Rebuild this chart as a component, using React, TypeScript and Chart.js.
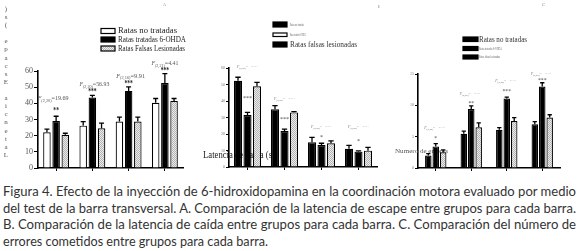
import React, { useEffect, useLayoutEffect, useRef } from "react";
import { Chart, registerables } from "chart.js";

Chart.register(...registerables);

// ---------- data ----------
const groupLabels = ["Barra 1", "Barra 2", "Barra 3", "Barra 4"];
const legendA = ["Ratas no tratadas", "Ratas tratadas 6-OHDA", "Ratas Falsas Lesionadas"];
const legendBC = ["Ratas no tratadas", "Ratas tratadas 6-OHDA", "Ratas falsas lesionadas"];

// A. Latencia de escape (s)
const escapeNoTratadas = [22.1, 26.2, 28.7, 40.3];
const escapeNoTratadasSem = [2.0, 2.5, 2.8, 2.7];
const escapeTratadas = [29.1, 43.6, 47.7, 52.6];
const escapeTratadasSem = [2.9, 1.3, 2.5, 5.8];
const escapeFalsas = [20.5, 24.6, 28.7, 41.5];
const escapeFalsasSem = [1.0, 3.1, 2.8, 1.5];
const escapeDf = ["(2,20)", "(2,20)", "(2,16)", "(2,21)"];
const escapeF = ["19.69", "56.93", "9.91", "4.41"];
const escapeStars = ["**", "***", "***", "***"];
const escapeTitle = "Latencia Escape (s)";

// B. Latencia de caída (s)
const caidaNoTratadas = [52.3, 35.0, 15.0, 11.1];
const caidaNoTratadasSem = [2.1, 2.2, 3.0, 2.0];
const caidaTratadas = [31.5, 21.8, 13.3, 9.3];
const caidaTratadasSem = [1.6, 1.2, 1.1, 0.5];
const caidaFalsas = [48.9, 33.1, 14.4, 9.9];
const caidaFalsasSem = [2.4, 0.5, 1.4, 2.0];
const caidaDf = ["(2,20)", "(2,20)", "(2,20)", "(2,20)"];
const caidaStars = ["***", "***", "*", "*"];
const caidaTitle = "Latencia de caída (s)";

// C. Número de errores
const erroresNoTratadas = [2.0, 5.45, 6.1, 7.0];
const erroresNoTratadasSem = [0.3, 0.45, 0.35, 0.4];
const erroresTratadas = [3.45, 9.4, 11.1, 13.0];
const erroresTratadasSem = [0.45, 0.5, 0.2, 0.6];
const erroresFalsas = [2.5, 6.5, 7.5, 8.05];
const erroresFalsasSem = [0.4, 0.7, 0.55, 0.45];
const erroresDf = ["(2,20)", "(2,20)", "(2,20)", "(2,20)"];
const erroresStars = ["*", "**", "***", "***"];
const erroresTitle = "Numero de errores";

const captionLines = [
  "Figura 4. Efecto de la inyección de 6-hidroxidopamina en la coordinación motora evaluado por medio",
  "del test de la barra transversal. A. Comparación de la latencia de escape entre grupos para cada barra.",
  "B. Comparación de la latencia de caída entre grupos para cada barra. C. Comparación del número de",
  "errores cometidos entre grupos para cada barra.",
];

// ---------- helpers ----------
const SERIF = '"Liberation Serif", "DejaVu Serif", serif';

function makeHatch(): CanvasPattern | string {
  const c = document.createElement("canvas");
  c.width = 2;
  c.height = 2;
  const g = c.getContext("2d");
  if (!g) return "#ddd";
  g.fillStyle = "#ececec";
  g.fillRect(0, 0, 2, 2);
  g.fillStyle = "#b4b4b4";
  g.fillRect(0, 0, 1, 1);
  g.fillRect(1, 1, 1, 1);
  return g.createPattern(c, "repeat") || "#ddd";
}

function fitText(
  ctx: CanvasRenderingContext2D,
  text: string,
  x: number,
  y: number,
  width: number,
  font: string,
  color: string,
  center = false
) {
  ctx.save();
  ctx.font = font;
  ctx.fillStyle = color;
  ctx.textBaseline = "middle";
  ctx.textAlign = "left";
  const m = ctx.measureText(text).width || 1;
  const s = width / m;
  ctx.translate(center ? x - width / 2 : x, y);
  ctx.scale(s, 1);
  ctx.fillText(text, 0, 0);
  ctx.restore();
}

function drawF(
  ctx: CanvasRenderingContext2D,
  cx: number,
  cy: number,
  df: string,
  val: string,
  size: number,
  width: number,
  color: string
) {
  ctx.save();
  ctx.fillStyle = color;
  ctx.textBaseline = "middle";
  ctx.textAlign = "left";
  const f1 = `italic ${size}px ${SERIF}`;
  const f2 = `${size * 0.7}px ${SERIF}`;
  const f3 = `${size}px ${SERIF}`;
  ctx.font = f1;
  const w1 = ctx.measureText("F").width;
  ctx.font = f2;
  const w2 = ctx.measureText(df).width;
  ctx.font = f3;
  const w3 = ctx.measureText("=" + val).width;
  const s = width / (w1 + w2 + w3);
  ctx.translate(cx - width / 2, cy);
  ctx.scale(s, 1);
  ctx.font = f1;
  ctx.fillText("F", 0, 0);
  ctx.font = f2;
  ctx.fillText(df, w1, size * 0.3);
  ctx.font = f3;
  ctx.fillText("=" + val, w1 + w2, 0);
  ctx.restore();
}

function legendBox(ctx: CanvasRenderingContext2D, x: number, y: number, w: number, h: number, fill: any) {
  ctx.save();
  ctx.fillStyle = fill;
  ctx.fillRect(x, y, w, h);
  ctx.strokeStyle = "#000";
  ctx.lineWidth = 1.2;
  ctx.strokeRect(x, y, w, h);
  ctx.restore();
}

type PanelOpts = {
  series: number[][];
  sems: number[][];
  names: string[];
  fills: any[];
  max: number;
  step: number;
  yWidth: number;
  padRight: number;
  padTop: number;
  xHeight: number;
  tickFont: number;
  tickColor: string;
  tickLen: number;
  catPct: number;
  barPct: number;
  under?: (c: any) => void;
  over?: (c: any) => void;
};

function barConfig(o: PanelOpts): any {
  return {
    type: "bar",
    data: {
      labels: groupLabels,
      datasets: o.series.map((d, i) => ({
        label: o.names[i],
        data: d,
        backgroundColor: o.fills[i],
        borderColor: "#000",
        borderWidth: 1.2,
        barPercentage: o.barPct,
        categoryPercentage: o.catPct,
      })),
    },
    options: {
      animation: false,
      responsive: false,
      layout: { padding: { left: 0, right: o.padRight, top: o.padTop, bottom: 0 } },
      plugins: { legend: { display: false }, tooltip: { enabled: false } },
      scales: {
        x: {
          type: "category",
          offset: true,
          grid: { offset: false, drawOnChartArea: false, tickLength: 3, color: "#000", lineWidth: 1 },
          border: { display: true, color: "#000", width: 1.5 },
          ticks: { display: false },
          afterFit: (s: any) => {
            s.height = o.xHeight;
          },
        },
        y: {
          min: 0,
          max: o.max,
          ticks: {
            stepSize: o.step,
            font: { family: SERIF, size: o.tickFont },
            color: o.tickColor,
            padding: 1,
          },
          grid: { drawOnChartArea: false, tickLength: o.tickLen, color: "#000", lineWidth: 1 },
          border: { display: true, color: "#000", width: 1.6 },
          afterFit: (s: any) => {
            s.width = o.yWidth;
          },
        },
      },
    },
    plugins: [
      {
        id: "under",
        beforeDatasetsDraw(c: any) {
          o.under && o.under(c);
        },
      },
      {
        id: "errbars",
        afterDatasetsDraw(c: any) {
          const ctx = c.ctx as CanvasRenderingContext2D;
          const y = c.scales.y;
          ctx.save();
          ctx.strokeStyle = "#000";
          ctx.lineWidth = 1.3;
          o.series.forEach((d, i) => {
            const meta = c.getDatasetMeta(i);
            meta.data.forEach((bar: any, j: number) => {
              const top = y.getPixelForValue(d[j] + o.sems[i][j]);
              const w = bar.width * 0.33;
              ctx.beginPath();
              ctx.moveTo(bar.x, bar.y);
              ctx.lineTo(bar.x, top);
              ctx.moveTo(bar.x - w, top);
              ctx.lineTo(bar.x + w, top);
              ctx.stroke();
            });
          });
          ctx.restore();
        },
      },
      {
        id: "over",
        afterDraw(c: any) {
          o.over && o.over(c);
        },
      },
    ],
  };
}

function barX(c: any, ds: number, j: number) {
  return c.getDatasetMeta(ds).data[j].x as number;
}

function errTop(c: any, vals: number[], sems: number[], j: number) {
  return c.scales.y.getPixelForValue(vals[j] + sems[j]) as number;
}

function groupCenter(c: any, j: number) {
  return c.scales.x.getPixelForValue(j) as number;
}

// ---------- panels ----------
function buildA(hatch: any) {
  const series = [escapeNoTratadas, escapeTratadas, escapeFalsas];
  const sems = [escapeNoTratadasSem, escapeTratadasSem, escapeFalsasSem];
  const fLift = [18, 11, 11, 10];
  const fDx = [-3, 2, 2, 0];
  const fW = [31, 30, 29, 27];
  const starLift = [5, 3, 2.5, 2.5];
  return barConfig({
    series,
    sems,
    names: legendA,
    fills: ["#fff", "#000", hatch],
    max: 60,
    step: 10,
    yWidth: 38,
    padRight: 7,
    padTop: 71,
    xHeight: 10,
    tickFont: 8,
    tickColor: "#555",
    tickLen: 4,
    catPct: 0.76,
    barPct: 0.82,
    over: (c) => {
      const ctx = c.ctx as CanvasRenderingContext2D;
      // vertical stacked title
      ctx.save();
      ctx.font = `7px ${SERIF}`;
      ctx.fillStyle = "#555";
      ctx.textAlign = "center";
      ctx.textBaseline = "middle";
      const chars = escapeTitle.split("").reverse();
      const step = (155 - 9) / (chars.length - 1);
      chars.forEach((ch, k) => ctx.fillText(ch, 6, 9 + k * step));
      ctx.restore();
      // legend
      const fills = ["#fff", "#000", c.data.datasets[2].backgroundColor];
      const ys = [31, 39.5, 48.5];
      const tw = [59, 68, 67];
      legendA.forEach((t, i) => {
        legendBox(ctx, 101, ys[i] - 2.5, 14, 5, fills[i]);
        fitText(ctx, t, 118, ys[i], tw[i], `9px ${SERIF}`, "#222");
      });
      // stats
      groupLabels.forEach((_, j) => {
        const top = errTop(c, escapeTratadas, escapeTratadasSem, j);
        drawF(ctx, groupCenter(c, j) + fDx[j], top - fLift[j], escapeDf[j], escapeF[j], 7, fW[j], "#555");
        fitText(
          ctx,
          escapeStars[j],
          barX(c, 1, j),
          top - starLift[j],
          escapeStars[j].length * 2.8,
          `bold 8px ${SERIF}`,
          "#222",
          true
        );
      });
      fitText(ctx, "A", 163, 5, 3, `5px ${SERIF}`, "#888");
    },
  });
}

function buildB(hatch: any) {
  const ox = 190;
  const series = [caidaNoTratadas, caidaTratadas, caidaFalsas];
  const sems = [caidaNoTratadasSem, caidaTratadasSem, caidaFalsasSem];
  const fLift = [10, 7, 10, 18];
  const starLift = [14, 10, 6, 9];
  return barConfig({
    series,
    sems,
    names: legendBC,
    fills: ["#000", "#000", hatch],
    max: 60,
    step: 10,
    yWidth: 39,
    padRight: 3,
    padTop: 68,
    xHeight: 11,
    tickFont: 4,
    tickColor: "#777",
    tickLen: 3,
    catPct: 0.77,
    barPct: 0.85,
    under: (c) => {
      const ctx = c.ctx as CanvasRenderingContext2D;
      fitText(ctx, caidaTitle, 203 - ox, 155, 72, `10px ${SERIF}`, "#222");
    },
    over: (c) => {
      const ctx = c.ctx as CanvasRenderingContext2D;
      legendBox(ctx, 273 - ox, 22, 14, 5, "#000");
      legendBox(ctx, 273 - ox, 33, 14, 3.5, "#fff");
      legendBox(ctx, 273 - ox, 42, 14, 5, "#000");
      fitText(ctx, legendBC[0], 290 - ox, 24.5, 14, `4px ${SERIF}`, "#666");
      fitText(ctx, legendBC[1], 290 - ox, 35, 16, `4px ${SERIF}`, "#666");
      fitText(ctx, legendBC[2], 290 - ox, 44.5, 67, `9px ${SERIF}`, "#333");
      groupLabels.forEach((_, j) => {
        const tops = series.map((s, i) => errTop(c, s, sems[i], j));
        const top = Math.min(...tops);
        drawF(ctx, groupCenter(c, j) - 5, top - fLift[j], caidaDf[j], "", 4, 11, "#777");
        fitText(ctx, "= \u00b7\u00b7\u00b7", groupCenter(c, j) + 4, top - fLift[j], 6, `4px ${SERIF}`, "#777");
        const mt = errTop(c, caidaTratadas, caidaTratadasSem, j);
        fitText(
          ctx,
          caidaStars[j],
          barX(c, 1, j),
          mt - starLift[j],
          caidaStars[j].length * 3,
          `6px ${SERIF}`,
          "#444",
          true
        );
      });
      fitText(ctx, "B", 378 - ox, 7, 3, `5px ${SERIF}`, "#888");
    },
  });
}

function buildC(hatch: any) {
  const ox = 380;
  const series = [erroresNoTratadas, erroresTratadas, erroresFalsas];
  const sems = [erroresNoTratadasSem, erroresTratadasSem, erroresFalsasSem];
  const fLift = [16, 12, 16, 9];
  const starLift = [5, 3, 6, 2];
  return barConfig({
    series,
    sems,
    names: legendBC,
    fills: ["#000", "#000", hatch],
    max: 15,
    step: 5,
    yWidth: 38,
    padRight: 18,
    padTop: 74,
    xHeight: 10,
    tickFont: 4,
    tickColor: "#777",
    tickLen: 3,
    catPct: 0.63,
    barPct: 0.87,
    under: (c) => {
      const ctx = c.ctx as CanvasRenderingContext2D;
      fitText(ctx, erroresTitle, 395 - ox, 151, 53, `7px ${SERIF}`, "#555");
    },
    over: (c) => {
      const ctx = c.ctx as CanvasRenderingContext2D;
      legendBox(ctx, 463 - ox, 37, 15, 4.5, "#000");
      legendBox(ctx, 463 - ox, 46.5, 15, 4, "#000");
      legendBox(ctx, 463 - ox, 55, 15, 4, "#000");
      fitText(ctx, legendBC[0], 479 - ox, 39.5, 48, `9px ${SERIF}`, "#333");
      fitText(ctx, legendBC[1], 479 - ox, 48.5, 23, `4px ${SERIF}`, "#666");
      fitText(ctx, legendBC[2], 479 - ox, 57, 21, `4px ${SERIF}`, "#666");
      groupLabels.forEach((_, j) => {
        const top = errTop(c, erroresTratadas, erroresTratadasSem, j);
        const cx = groupCenter(c, j) - 2;
        drawF(ctx, cx - 4, top - fLift[j], erroresDf[j], "", 4, 11, "#777");
        fitText(ctx, "= \u00b7\u00b7\u00b7", cx + 5, top - fLift[j], 6, `4px ${SERIF}`, "#777");
        fitText(
          ctx,
          erroresStars[j],
          barX(c, 1, j),
          top - starLift[j],
          erroresStars[j].length * 2.8,
          `6px ${SERIF}`,
          "#444",
          true
        );
      });
      fitText(ctx, "C", 542 - ox, 5, 3, `5px ${SERIF}`, "#888");
    },
  });
}

// ---------- components ----------
function Caption() {
  const refs = useRef<(HTMLSpanElement | null)[]>([]);
  const targets = [573, 573, 573, 265];
  useLayoutEffect(() => {
    const apply = () => {
      refs.current.forEach((el, i) => {
        if (!el) return;
        el.style.transform = "none";
        const w = el.getBoundingClientRect().width || 1;
        el.style.transform = `scaleX(${targets[i] / w})`;
      });
    };
    apply();
    if ((document as any).fonts && (document as any).fonts.ready) {
      (document as any).fonts.ready.then(apply);
    }
  }, []);
  return (
    <div
      style={{
        position: "absolute",
        left: 3,
        top: 183,
        fontFamily: "Lato, 'Open Sans', sans-serif",
        fontSize: 13,
        lineHeight: "16.5px",
        color: "#333",
      }}
    >
      {captionLines.map((t, i) => (
        <div key={i} style={{ whiteSpace: "nowrap", height: 16.5 }}>
          <span
            ref={(el) => {
              refs.current[i] = el;
            }}
            style={{ display: "inline-block", transformOrigin: "0 0" }}
          >
            {t}
          </span>
        </div>
      ))}
    </div>
  );
}

export default function App() {
  const refA = useRef<HTMLCanvasElement>(null);
  const refB = useRef<HTMLCanvasElement>(null);
  const refC = useRef<HTMLCanvasElement>(null);

  useEffect(() => {
    document.body.style.margin = "0";
    const hatch = makeHatch();
    const charts: Chart[] = [];
    if (refA.current) charts.push(new Chart(refA.current, buildA(hatch)));
    if (refB.current) charts.push(new Chart(refB.current, buildB(hatch)));
    if (refC.current) charts.push(new Chart(refC.current, buildC(hatch)));
    return () => charts.forEach((c) => c.destroy());
  }, []);

  return (
    <div
      style={{
        position: "fixed",
        left: 0,
        top: 0,
        width: 578,
        height: 251,
        background: "#fff",
        overflow: "hidden",
      }}
    >
      <canvas ref={refA} width={190} height={178} style={{ position: "absolute", left: 0, top: 0 }} />
      <canvas ref={refB} width={190} height={178} style={{ position: "absolute", left: 190, top: 0 }} />
      <canvas ref={refC} width={198} height={178} style={{ position: "absolute", left: 380, top: 0 }} />
      <Caption />
    </div>
  );
}
